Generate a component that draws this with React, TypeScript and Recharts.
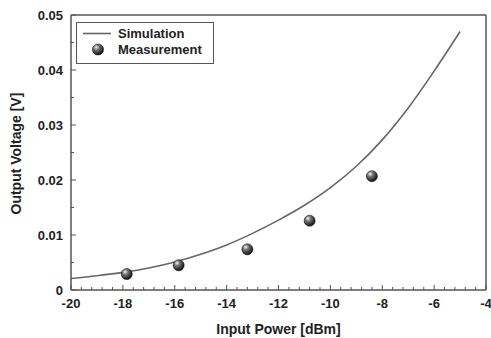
import React from 'react';
import { ComposedChart, Line, Scatter, XAxis, YAxis, ReferenceLine } from 'recharts';

// simulated output voltage, every 1 dBm
const SIM_POWER = [-20, -19, -18, -17, -16, -15, -14, -13, -12, -11, -10, -9, -8, -7, -6, -5];
const SIM_VOLTAGE = [0.0021, 0.0026, 0.0032, 0.004, 0.0051, 0.0065, 0.0082, 0.0103, 0.0127, 0.0154, 0.0186, 0.0225, 0.0273, 0.0331, 0.0398, 0.047];

// measured points
const MEAS_POWER = [-17.85, -15.85, -13.2, -10.8, -8.4];
const MEAS_VOLTAGE = [0.0029, 0.0045, 0.0074, 0.0126, 0.0207];

const X_MAJOR = [-20, -18, -16, -14, -12, -10, -8, -6, -4];
const Y_MAJOR = [0, 0.01, 0.02, 0.03, 0.04, 0.05];
const Y_LABELS = ['0', '0.01', '0.02', '0.03', '0.04', '0.05'];

const simData = SIM_POWER.map((x, i) => ({ x, y: SIM_VOLTAGE[i] }));
const measData = MEAS_POWER.map((x, i) => ({ x, y: MEAS_VOLTAGE[i] }));

// minor ticks every 0.4 dBm on x, every 0.005 V on y
const xTicks: number[] = [];
for (let i = 0; i <= 40; i++) xTicks.push(Math.round((-20 + i * 0.4) * 10) / 10);
const yTicks: number[] = [];
for (let i = 0; i <= 10; i++) yTicks.push(Math.round(i * 0.005 * 1000) / 1000);

const FONT = '"Liberation Sans", Arial, sans-serif';
const AXIS = '#555';
const TEXT = '#222';
const TICK_OFFSET = 6; // recharts pushes the tick props out by tickSize

// ticks point into the plot, like the original
const XTick = (props: any) => {
    const { x, y, payload } = props;
    const major = X_MAJOR.some(v => Math.abs(v - payload.value) < 1e-6);
    const ax = Number(y) - TICK_OFFSET;
    return (
        <g>
            <path d={`M${x},${ax}V${ax - (major ? 5 : 3)}`} stroke={AXIS} strokeWidth={1} fill="none" />
            {major && (
                <text x={x} y={ax + 18} textAnchor="middle" fontFamily={FONT} fontWeight="bold" fontSize={13} fill={TEXT}>
                    {payload.value}
                </text>
            )}
        </g>
    );
};

const YTick = (props: any) => {
    const { x, y, payload } = props;
    const idx = Y_MAJOR.findIndex(v => Math.abs(v - payload.value) < 1e-6);
    const major = idx >= 0;
    const ax = Number(x) + TICK_OFFSET;
    return (
        <g>
            <path d={`M${ax},${y}H${ax + (major ? 5 : 3)}`} stroke={AXIS} strokeWidth={1} fill="none" />
            {major && (
                <text x={ax - 8} y={Number(y) + 4.5} textAnchor="end" fontFamily={FONT} fontWeight="bold" fontSize={13} fill={TEXT}>
                    {Y_LABELS[idx]}
                </text>
            )}
        </g>
    );
};

const Ball = (props: any) => {
    const { cx, cy } = props;
    return <circle cx={cx} cy={cy} r={5.5} fill="url(#ballGrad)" stroke="#111" strokeWidth={0.6} />;
};

const App: React.FC = () => {
    return (
        <div style={{ position: 'absolute', left: 0, top: 0, width: 491, height: 338, background: '#fff' }}>
            <ComposedChart width={491} height={338} margin={{ top: 15, right: 5, left: 0, bottom: 0 }}>
                <defs>
                    <radialGradient id="ballGrad" cx="35%" cy="30%" r="70%">
                        <stop offset="0%" stopColor="#f4f4f4" />
                        <stop offset="35%" stopColor="#777" />
                        <stop offset="100%" stopColor="#111" />
                    </radialGradient>
                </defs>
                <XAxis
                    type="number"
                    dataKey="x"
                    domain={[-20, -4]}
                    ticks={xTicks}
                    interval={0}
                    height={48}
                    tickSize={6}
                    tickMargin={0}
                    tickLine={false}
                    tick={<XTick />}
                    stroke={AXIS}
                    strokeWidth={1.5}
                    allowDataOverflow
                    label={{ value: 'Input Power [dBm]', position: 'insideBottom', offset: 4, fill: TEXT, fontFamily: FONT, fontWeight: 'bold', fontSize: 14 }}
                />
                <YAxis
                    type="number"
                    dataKey="y"
                    domain={[0, 0.05]}
                    ticks={yTicks}
                    interval={0}
                    width={71}
                    tickSize={6}
                    tickMargin={0}
                    tickLine={false}
                    tick={<YTick />}
                    stroke={AXIS}
                    strokeWidth={1.5}
                    allowDataOverflow
                    label={{ value: 'Output Voltage [V]', angle: -90, position: 'insideLeft', offset: 16, dy: 62, fill: TEXT, fontFamily: FONT, fontWeight: 'bold', fontSize: 14 }}
                />
                <ReferenceLine y={0.05} stroke={AXIS} strokeWidth={1.5} />
                <ReferenceLine x={-4} stroke={AXIS} strokeWidth={1.5} />
                <Line data={simData} dataKey="y" type="monotone" stroke="#666" strokeWidth={1.6} dot={false} isAnimationActive={false} />
                <Scatter data={measData} dataKey="y" shape={<Ball />} isAnimationActive={false} />
            </ComposedChart>
            <div
                style={{
                    position: 'absolute', left: 76, top: 22, width: 138, height: 42,
                    border: '1px solid #555', background: '#fff', fontFamily: FONT, fontWeight: 'bold',
                    fontSize: 13, color: TEXT, boxSizing: 'border-box',
                }}
            >
                <svg width={30} height={40} style={{ position: 'absolute', left: 4, top: 0 }}>
                    <defs>
                        <radialGradient id="ballGrad2" cx="35%" cy="30%" r="70%">
                            <stop offset="0%" stopColor="#f4f4f4" />
                            <stop offset="35%" stopColor="#777" />
                            <stop offset="100%" stopColor="#111" />
                        </radialGradient>
                    </defs>
                    <line x1={2} x2={30} y1={10.5} y2={10.5} stroke="#666" strokeWidth={1.6} />
                    <circle cx={17} cy={26.5} r={5.5} fill="url(#ballGrad2)" stroke="#111" strokeWidth={0.6} />
                </svg>
                <div style={{ position: 'absolute', left: 41, top: 2, lineHeight: '17px' }}>Simulation</div>
                <div style={{ position: 'absolute', left: 41, top: 18, lineHeight: '17px' }}>Measurement</div>
            </div>
        </div>
    );
};

export default App;
